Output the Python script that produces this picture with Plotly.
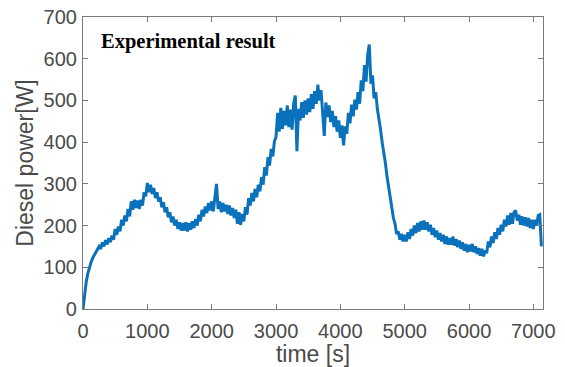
import plotly.graph_objects as go

power = [
    0, 40, 65, 85, 100, 112, 122, 130, 138, 143,
    150, 144, 160, 150, 165, 155, 170, 160, 176, 166,
    192, 178, 198, 186, 214, 200, 224, 210, 240, 222,
    258, 238, 262, 242, 260, 240, 262, 248, 280, 270,
    302, 280, 298, 276, 290, 266, 280, 258, 268, 244,
    256, 232, 244, 220, 232, 208, 222, 200, 214, 192,
    208, 188, 206, 188, 208, 186, 206, 190, 210, 194,
    216, 200, 226, 210, 238, 222, 246, 230, 254, 236,
    258, 234, 262, 300, 240, 258, 232, 254, 234, 250,
    228, 248, 224, 242, 218, 238, 204, 232, 202, 228,
    210, 244, 226, 266, 248, 278, 258, 288, 268, 298,
    282, 316, 298, 340, 320, 364, 344, 384, 366, 402,
    412, 470, 425, 482, 432, 475, 440, 488, 436, 478,
    430, 492, 512, 378, 480, 452, 496, 458, 500, 466,
    505, 472, 515, 480, 522, 492, 538, 500, 525, 478,
    415, 495, 460, 488, 448, 475, 436, 462, 425, 452,
    410, 440, 392, 438, 420, 470, 445, 490, 462, 502,
    478, 520, 492, 548, 522, 585, 545, 610, 634, 540,
    560, 505, 520, 480, 458, 430, 400, 378, 350, 318,
    290, 262, 240, 218, 204, 180, 186, 166, 180, 162,
    178, 162, 184, 168, 192, 176, 200, 182, 206, 186,
    210, 190, 212, 190, 208, 186, 202, 178, 194, 172,
    188, 166, 182, 162, 178, 156, 174, 154, 170, 154,
    174, 152, 168, 148, 164, 144, 160, 140, 156, 136,
    154, 138, 156, 136, 150, 132, 146, 128, 144, 126,
    140, 134, 162, 148, 174, 158, 184, 168, 194, 178,
    202, 186, 214, 198, 224, 202, 230, 204, 232, 236,
    212, 226, 202, 222, 200, 220, 198, 218, 194, 214,
    192, 214, 200, 224, 226, 150,
]
time_step = 25
time_s = [i * time_step for i in range(len(power))]

x_ticks = [0, 1000, 2000, 3000, 4000, 5000, 6000, 7000]
y_ticks = [0, 100, 200, 300, 400, 500, 600, 700]

axis_col = "#7a7a7a"
label_col = "#4a4a4a"
font_fam = "Liberation Sans, Arial, sans-serif"

fig = go.Figure()
fig.add_trace(go.Scatter(
    x=time_s, y=power, mode="lines",
    line=dict(color="#0a72bd", width=3),
    showlegend=False, hoverinfo="skip",
))

common = dict(
    showgrid=False, zeroline=False, showline=True, linecolor=axis_col,
    linewidth=1.2, mirror="ticks", ticks="inside", ticklen=5,
    tickcolor=axis_col, tickwidth=1.2, automargin=False,
    tickfont=dict(family=font_fam, size=20, color=label_col),
)

fig.update_xaxes(
    range=[0, 7150], tickvals=x_ticks, ticklabelstandoff=4,
    title=dict(text="time [s]", font=dict(family=font_fam, size=23, color=label_col), standoff=0),
    **common,
)
fig.update_yaxes(
    range=[0, 700], tickvals=y_ticks, ticklabelstandoff=1,
    title=dict(text="Diesel power[W]", font=dict(family=font_fam, size=23, color=label_col), standoff=3),
    **common,
)

fig.add_annotation(
    x=0.035, y=0.915, xref="paper", yref="paper", xanchor="left", yanchor="middle",
    text="<b>Experimental result</b>", showarrow=False,
    font=dict(family="Liberation Serif, Times New Roman, serif", size=20.5, color="#000000"),
)

fig.update_layout(
    width=565, height=367,
    margin=dict(l=83, r=22, t=17, b=58),
    paper_bgcolor="white", plot_bgcolor="white",
)

fig.write_html(
    "out.html",
    config={"displayModeBar": False},
    post_script="document.body.style.margin='0';document.body.style.overflow='hidden';",
)
